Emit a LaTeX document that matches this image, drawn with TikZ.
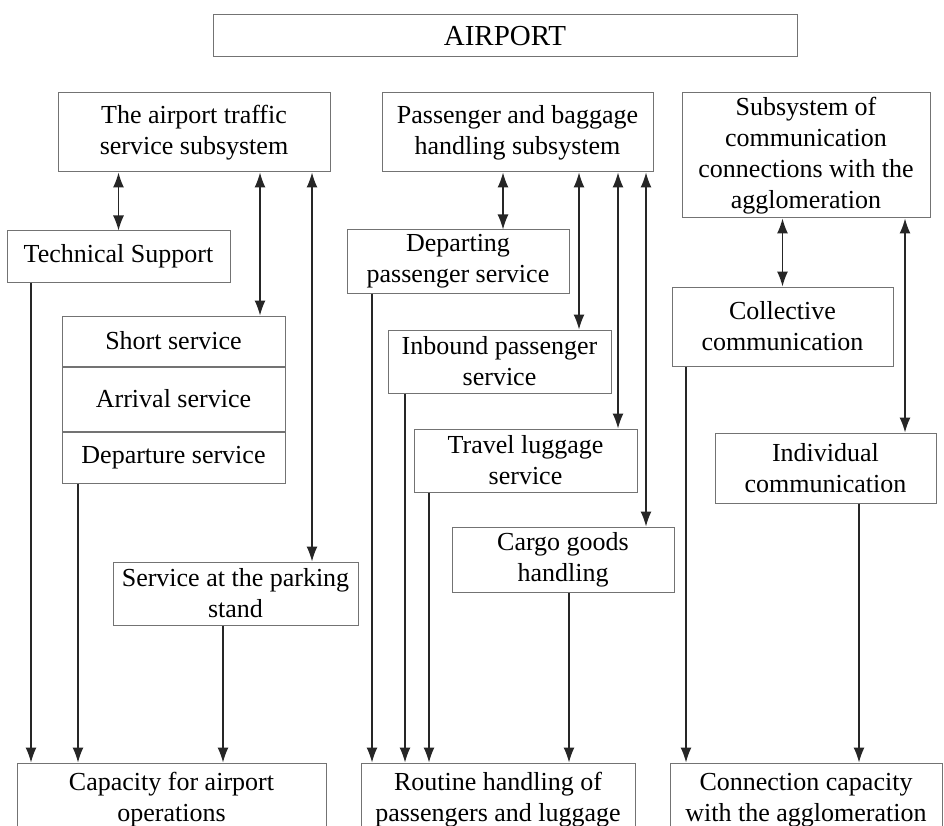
\documentclass[tikz,border=0pt]{standalone}
\usepackage{fontspec}
\setmainfont{Liberation Serif}
\usetikzlibrary{arrows.meta, positioning}

\tikzset{
  box/.style={draw=black!55, line width=1pt, align=center, inner sep=2pt,
              font=\fontsize{26}{31}\selectfont},
  link/.style={line width=1.3pt, black!85},
  both/.style={link, {Latex[length=15pt,width=11pt]}-{Latex[length=15pt,width=11pt]}},
  down/.style={link, -{Latex[length=15pt,width=11pt]}},
}

\begin{document}
\begin{tikzpicture}[x=1pt,y=-1pt,node distance=0pt]
    \useasboundingbox (0,0) rectangle (944,826);
    \node[box, minimum width=584, minimum height=42, font=\fontsize{29}{33}\selectfont] (airport) at (505,36) {AIRPORT};
    % subsystems
    \node[box, minimum width=272, minimum height=79] (sub_1) at (194,132.5) {The airport traffic\\service subsystem};
    \node[box, minimum width=271, minimum height=79] (sub_2) at (517.5,132.5) {Passenger and baggage\\handling subsystem};
    \node[box, minimum width=248, minimum height=125] (sub_3) at (806,155.5) {Subsystem of\\communication\\connections with the\\agglomeration};
    % airport traffic
    \node[box, minimum width=223, minimum height=51] (tech) at (118.5,256.5) {Technical Support};
    \node[box, minimum width=223, minimum height=50] (short) at (173.5,341) {Short service};
      \node[box, minimum width=223, minimum height=64] (arrival) [below=of short] {Arrival service};
      \node[box, minimum width=223, minimum height=51] (departure) [below=of arrival] {Departure service};
    \node[box, minimum width=245, minimum height=63] (parking) at (235.5,593.5) {Service at the parking\\stand};
    % passengers and baggage
    \node[box, minimum width=222, minimum height=63] (dep_pass) at (458,261.5) {Departing\\passenger service};
    \node[box, minimum width=223, minimum height=63] (inbound) at (499.5,361.5) {Inbound passenger\\service};
    \node[box, minimum width=223, minimum height=63] (luggage) at (525.5,460.5) {Travel luggage\\service};
    \node[box, minimum width=222, minimum height=65] (cargo) at (563,559.5) {Cargo goods\\handling};
    % agglomeration
    \node[box, minimum width=221, minimum height=79] (collective) at (782.5,326.5) {Collective\\communication};
    \node[box, minimum width=221, minimum height=70] (individual) at (825.5,468) {Individual\\communication};
    % results
    \node[box, minimum width=309, minimum height=74] (cap_1) at (171.5,800) {Capacity for airport\\operations};
    \node[box, minimum width=274, minimum height=74] (cap_2) at (498,800) {Routine handling of\\passengers and luggage};
    \node[box, minimum width=272, minimum height=74] (cap_3) at (806,800) {Connection capacity\\with the agglomeration};

    \draw[both] (tech.north |- sub_1.south) -- (tech.north);
    \draw[both] (260,0 |- sub_1.south) -- (260,0 |- short.north);
    \draw[both] (312,0 |- sub_1.south) -- (312,0 |- parking.north);
    \draw[both] (503,0 |- sub_2.south) -- (503,0 |- dep_pass.north);
    \draw[both] (579,0 |- sub_2.south) -- (579,0 |- inbound.north);
    \draw[both] (618,0 |- sub_2.south) -- (618,0 |- luggage.north);
    \draw[both] (646,0 |- sub_2.south) -- (646,0 |- cargo.north);
    \draw[both] (collective.north |- sub_3.south) -- (collective.north);
    \draw[both] (905,0 |- sub_3.south) -- (905,0 |- individual.north);
    \draw[down] (31,0 |- tech.south) -- (31,0 |- cap_1.north);
    \draw[down] (78,0 |- departure.south) -- (78,0 |- cap_1.north);
    \draw[down] (223,0 |- parking.south) -- (223,0 |- cap_1.north);
    \draw[down] (372,0 |- dep_pass.south) -- (372,0 |- cap_2.north);
    \draw[down] (405,0 |- inbound.south) -- (405,0 |- cap_2.north);
    \draw[down] (429,0 |- luggage.south) -- (429,0 |- cap_2.north);
    \draw[down] (569,0 |- cargo.south) -- (569,0 |- cap_2.north);
    \draw[down] (686,0 |- collective.south) -- (686,0 |- cap_3.north);
    \draw[down] (859,0 |- individual.south) -- (859,0 |- cap_3.north);
\end{tikzpicture}
\end{document}
